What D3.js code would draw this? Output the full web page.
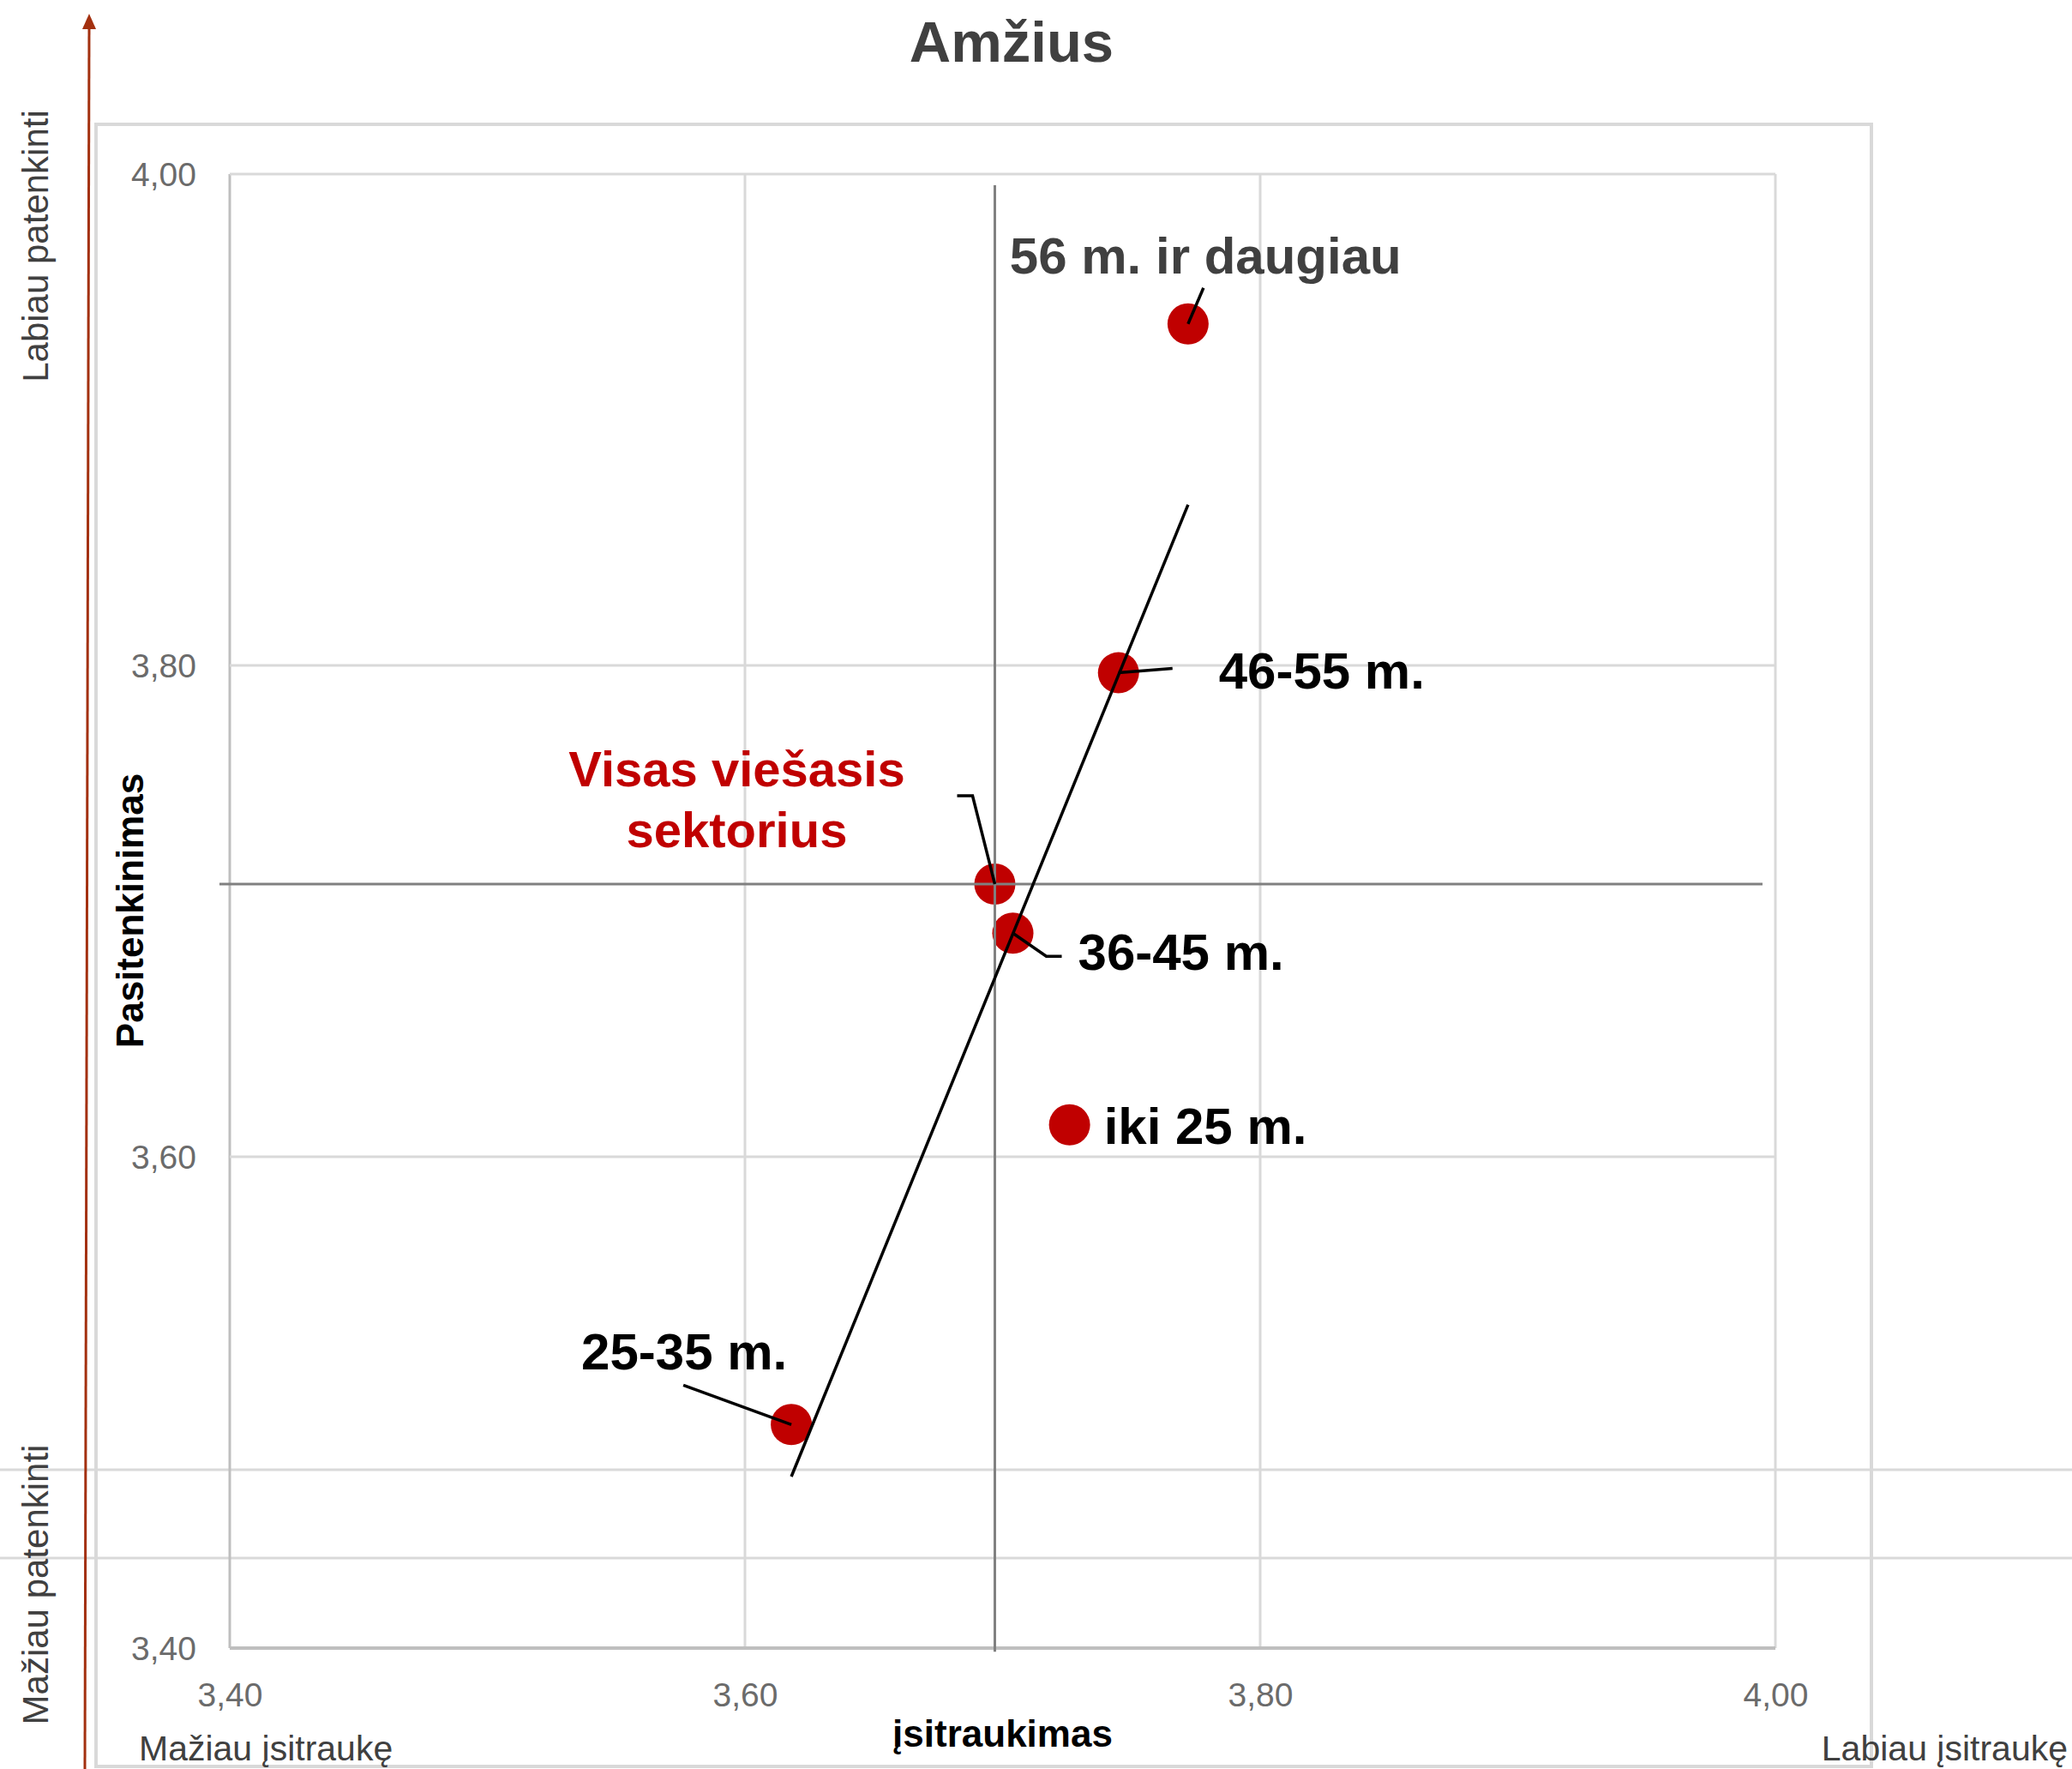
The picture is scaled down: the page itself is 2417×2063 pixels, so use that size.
<!DOCTYPE html>
<html lang="lt">
<head>
<meta charset="utf-8">
<title>Amžius</title>
<script src="https://cdn.jsdelivr.net/npm/d3@7"></script>
<style>
  html, body { margin: 0; padding: 0; background: #ffffff; }
  svg { display: block; }
  text { font-family: "Liberation Sans", Arial, "Helvetica Neue", sans-serif; }
</style>
</head>
<body>
<svg id="chart" width="2417" height="2063"></svg>
<script>
// ---- data ---------------------------------------------------------------
const groups       = ["56 m. ir daugiau", "46-55 m.", "36-45 m.", "iki 25 m.", "25-35 m.", "Visas viešasis sektorius"];
const engagement   = [3.772, 3.745, 3.704, 3.726, 3.618, 3.697];   // įsitraukimas
const satisfaction = [3.939, 3.797, 3.691, 3.613, 3.491, 3.711];   // pasitenkinimas
const tickValues   = [3.40, 3.60, 3.80, 4.00];
const totalIndex   = 5;                                             // "Visas viešasis sektorius"
const crossSpanX   = [3.396, 3.995];                                // horizontal reference line extent
const crossSpanY   = [3.3985, 3.9955];                              // vertical reference line extent

// ---- layout -------------------------------------------------------------
const W = 2417, H = 2063;
const plot = { left: 268, right: 2071, top: 203, bottom: 1922 };
const font = '"Liberation Sans", Arial, sans-serif';

// label placement relative to each marker (pixels): text anchor point + leader path
const labelLayout = [
  { dx: -208, dy: -59, anchor: "start", size: 60, color: "#404040", leader: [[0, 0], [18, -42]] },
  { dx: 117,  dy: 18,  anchor: "start", size: 60, color: "#000000", leader: [[0, 0], [63, -5]] },
  { dx: 76,   dy: 43,  anchor: "start", size: 60, color: "#000000", leader: [[0, 0], [39, 27], [57, 27]] },
  { dx: 40,   dy: 22,  anchor: "start", size: 60, color: "#000000", leader: null },
  { dx: -245, dy: -64, anchor: "start", size: 60, color: "#000000", leader: [[0, 0], [-126, -46]] },
  { dx: -301, dy: -114, anchor: "middle", size: 58, color: "#C00000", lines: ["Visas viešasis", "sektorius"], lineGap: 71,
    leader: [[0, 0], [-26, -103], [-44, -103]] }
];

const svg = d3.select("#chart");
svg.append("rect").attr("width", W).attr("height", H).attr("fill", "#ffffff");

const x = d3.scaleLinear().domain([3.4, 4.0]).range([plot.left, plot.right]);
const y = d3.scaleLinear().domain([3.4, 4.0]).range([plot.bottom, plot.top]);

const lt = d3.formatLocale({ decimal: ",", thousands: " ", grouping: [3], currency: ["", " €"] });
const fmt = lt.format(".2f");

// faint full-width rules running behind the chart
[1714, 1817].forEach(yy => {
  svg.append("line").attr("x1", 0).attr("x2", W).attr("y1", yy).attr("y2", yy)
    .attr("stroke", "#d9d9d9").attr("stroke-width", 3);
});

// outer chart frame
svg.append("rect")
  .attr("x", 112).attr("y", 145).attr("width", 2183 - 112).attr("height", 2060 - 145)
  .attr("fill", "none").attr("stroke", "#d9d9d9").attr("stroke-width", 4);

// gridlines
const grid = svg.append("g");
grid.selectAll("line.v").data(tickValues).join("line")
  .attr("x1", d => x(d)).attr("x2", d => x(d))
  .attr("y1", plot.top).attr("y2", plot.bottom)
  .attr("stroke", d => d === 3.4 ? "#bfbfbf" : "#d9d9d9").attr("stroke-width", 3);
grid.selectAll("line.h").data(tickValues).join("line")
  .attr("x1", plot.left).attr("x2", plot.right)
  .attr("y1", d => y(d)).attr("y2", d => y(d))
  .attr("stroke", d => d === 3.4 ? "#bfbfbf" : "#d9d9d9").attr("stroke-width", d => d === 3.4 ? 4 : 3);

// axes (labels only)
const xAxis = svg.append("g").attr("transform", `translate(0,${plot.bottom})`)
  .call(d3.axisBottom(x).tickValues(tickValues).tickFormat(fmt).tickSize(0));
xAxis.select(".domain").remove();
xAxis.selectAll("text")
  .attr("y", 68).attr("dy", 0)
  .attr("font-family", font).attr("font-size", 39).attr("fill", "#6b6b6b");

const yAxis = svg.append("g").attr("transform", `translate(${plot.left},0)`)
  .call(d3.axisLeft(y).tickValues(tickValues).tickFormat(fmt).tickSize(0));
yAxis.select(".domain").remove();
yAxis.selectAll("text")
  .attr("x", -39).attr("dy", "0.34em")
  .attr("font-family", font).attr("font-size", 39).attr("fill", "#6b6b6b");

// markers
const pts = groups.map((g, i) => ({ name: g, cx: x(engagement[i]), cy: y(satisfaction[i]), i }));
svg.append("g").selectAll("circle").data(pts).join("circle")
  .attr("cx", d => d.cx).attr("cy", d => d.cy).attr("r", 24)
  .attr("fill", "#C00000");

// reference cross through the whole-sector value
const tot = pts[totalIndex];
svg.append("line")
  .attr("x1", tot.cx).attr("x2", tot.cx)
  .attr("y1", y(crossSpanY[1])).attr("y2", y(crossSpanY[0]))
  .attr("stroke", "#808080").attr("stroke-width", 3);
svg.append("line")
  .attr("x1", x(crossSpanX[0])).attr("x2", x(crossSpanX[1]))
  .attr("y1", tot.cy).attr("y2", tot.cy)
  .attr("stroke", "#808080").attr("stroke-width", 3);

// linear trend (least squares over all points)
const mx = d3.mean(engagement), my = d3.mean(satisfaction);
const sxy = d3.sum(engagement, (v, i) => (v - mx) * (satisfaction[i] - my));
const sxx = d3.sum(engagement, v => (v - mx) * (v - mx));
const slope = sxy / sxx, intercept = my - slope * mx;
const [xMin, xMax] = d3.extent(engagement);
svg.append("path")
  .datum([xMin, xMax])
  .attr("d", d3.line().x(d => x(d)).y(d => y(intercept + slope * d)))
  .attr("fill", "none").attr("stroke", "#000000").attr("stroke-width", 3.5);

// leaders
const leaderLine = d3.line();
pts.forEach(p => {
  const L = labelLayout[p.i];
  if (!L.leader) return;
  svg.append("path")
    .attr("d", leaderLine(L.leader.map(([a, b]) => [p.cx + a, p.cy + b])))
    .attr("fill", "none").attr("stroke", "#000000").attr("stroke-width", 3.5);
});

// point labels
pts.forEach(p => {
  const L = labelLayout[p.i];
  const t = svg.append("text")
    .attr("x", p.cx + L.dx).attr("y", p.cy + L.dy)
    .attr("text-anchor", L.anchor)
    .attr("font-family", font).attr("font-weight", "bold")
    .attr("font-size", L.size).attr("fill", L.color);
  if (L.lines) {
    L.lines.forEach((ln, k) => {
      t.append("tspan").attr("x", p.cx + L.dx).attr("dy", k === 0 ? 0 : L.lineGap).text(ln);
    });
  } else {
    t.text(p.name);
  }
});

// title
svg.append("text").attr("x", 1180).attr("y", 72).attr("text-anchor", "middle")
  .attr("font-family", font).attr("font-weight", "bold").attr("font-size", 67)
  .attr("fill", "#404040").text("Amžius");

// axis titles
svg.append("text").attr("x", (plot.left + plot.right) / 2).attr("y", 2037).attr("text-anchor", "middle")
  .attr("font-family", font).attr("font-weight", "bold").attr("font-size", 44)
  .attr("fill", "#000000").text("įsitraukimas");
svg.append("text").attr("transform", "translate(167,1062) rotate(-90)").attr("text-anchor", "middle")
  .attr("font-family", font).attr("font-weight", "bold").attr("font-size", 44)
  .attr("fill", "#000000").text("Pasitenkinimas");

// direction captions
svg.append("text").attr("x", 162).attr("y", 2053)
  .attr("font-family", font).attr("font-size", 41).attr("fill", "#404040").text("Mažiau įsitraukę");
svg.append("text").attr("x", 2412).attr("y", 2053).attr("text-anchor", "end")
  .attr("font-family", font).attr("font-size", 41).attr("fill", "#404040").text("Labiau įsitraukę");
svg.append("text").attr("transform", "translate(56,287) rotate(-90)").attr("text-anchor", "middle")
  .attr("font-family", font).attr("font-size", 42).attr("fill", "#404040").text("Labiau patenkinti");
svg.append("text").attr("transform", "translate(56,1848) rotate(-90)").attr("text-anchor", "middle")
  .attr("font-family", font).attr("font-size", 42).attr("fill", "#404040").text("Mažiau patenkinti");

// vertical arrow on the left
const arrowColor = "#a3300f";
svg.append("line").attr("x1", 99).attr("y1", H).attr("x2", 104).attr("y2", 30)
  .attr("stroke", arrowColor).attr("stroke-width", 3);
svg.append("path").attr("d", "M104,16 L96,34 L112,34 Z").attr("fill", arrowColor);
</script>
</body>
</html>
